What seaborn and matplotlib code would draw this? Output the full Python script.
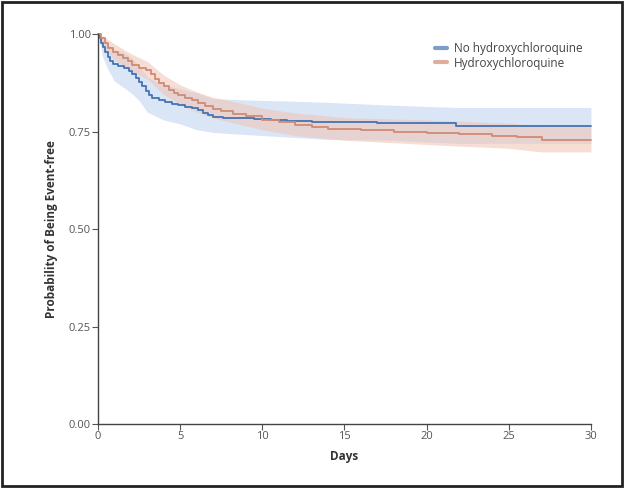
import pandas as pd
import seaborn as sns
import matplotlib.pyplot as plt
from matplotlib.patches import Rectangle

# Kaplan-Meier estimates
no_hcq_days = [0, 0.1, 0.2, 0.3, 0.45, 0.6, 0.75, 0.9, 1.2, 1.6, 1.9, 2.1, 2.3, 2.5, 2.7, 2.9, 3.1, 3.3,
               3.7, 4.1, 4.5, 4.9, 5.3, 5.7, 6.1, 6.4, 6.7, 7.0, 7.6, 8.5, 9.5, 10.5, 11.5, 13, 14, 17,
               21.8, 30]
no_hcq_surv = [1.0, 0.99, 0.978, 0.966, 0.955, 0.942, 0.932, 0.924, 0.918, 0.912, 0.906, 0.898, 0.888,
               0.878, 0.866, 0.855, 0.845, 0.836, 0.832, 0.826, 0.822, 0.818, 0.814, 0.81, 0.805, 0.798,
               0.792, 0.788, 0.786, 0.784, 0.782, 0.780, 0.778, 0.776, 0.774, 0.772, 0.764, 0.764]

hcq_days = [0, 0.2, 0.4, 0.6, 0.9, 1.2, 1.5, 1.8, 2.1, 2.5, 2.9, 3.2, 3.5, 3.7, 4.0, 4.3, 4.6, 4.9, 5.3,
            5.7, 6.1, 6.5, 7.0, 7.5, 8.2, 9.0, 10.0, 11.0, 12.0, 13.0, 14.0, 16.0, 18.0, 20.0, 22.0,
            24.0, 25.5, 27.0, 30]
hcq_surv = [1.0, 0.99, 0.978, 0.965, 0.955, 0.946, 0.938, 0.930, 0.921, 0.914, 0.907, 0.898, 0.886,
            0.875, 0.866, 0.857, 0.85, 0.843, 0.837, 0.831, 0.823, 0.815, 0.808, 0.802, 0.796, 0.789,
            0.781, 0.774, 0.767, 0.762, 0.757, 0.753, 0.749, 0.746, 0.743, 0.739, 0.735, 0.729, 0.728]

# 95% confidence bands (coarser grid)
no_hcq_ci_days = [0, 0.3, 0.6, 1.0, 1.5, 2.0, 2.5, 3.0, 3.5, 4.0, 5.0, 6.0, 7.0, 8.0, 10.0, 12.0, 14.0,
                  17.8, 21.8, 30]
no_hcq_ci_low = [1.0, 0.94, 0.91, 0.88, 0.865, 0.85, 0.83, 0.80, 0.79, 0.78, 0.77, 0.755, 0.748,
                 0.745, 0.74, 0.735, 0.73, 0.728, 0.72, 0.72]
no_hcq_ci_high = [1.0, 0.99, 0.975, 0.96, 0.955, 0.94, 0.92, 0.89, 0.88, 0.87, 0.86, 0.85, 0.835,
                  0.833, 0.83, 0.828, 0.825, 0.818, 0.812, 0.812]

hcq_ci_days = [0, 0.5, 1.0, 2.0, 3.0, 4.0, 5.0, 6.0, 7.0, 8.5, 10.0, 12.0, 15.0, 20.0, 25.0, 27.0, 30]
hcq_ci_low = [1.0, 0.955, 0.935, 0.905, 0.885, 0.845, 0.82, 0.80, 0.785, 0.77, 0.755, 0.74, 0.728,
              0.717, 0.707, 0.698, 0.698]
hcq_ci_high = [1.0, 0.99, 0.975, 0.95, 0.93, 0.895, 0.87, 0.852, 0.838, 0.825, 0.81, 0.798, 0.786,
               0.78, 0.772, 0.765, 0.765]

groups = ["No hydroxychloroquine", "Hydroxychloroquine"]
line_colors = ["#4473b4", "#d08a72"]
band_colors = ["#bcd0ef", "#f0c4b4"]

df = pd.concat([
    pd.DataFrame({"days": no_hcq_days, "surv": no_hcq_surv, "group": groups[0]}),
    pd.DataFrame({"days": hcq_days, "surv": hcq_surv, "group": groups[1]}),
])
bands = [(no_hcq_ci_days, no_hcq_ci_low, no_hcq_ci_high), (hcq_ci_days, hcq_ci_low, hcq_ci_high)]

sns.set_style("ticks")
plt.rcParams["font.family"] = ["Open Sans", "DejaVu Sans"]

fig = plt.figure(figsize=(6.24, 4.88), dpi=100)
ax = fig.add_axes([0.157, 0.131, 0.79, 0.799])

# confidence bands, drawn smooth like the reference
for (bd, lo, hi), bc in zip(bands, band_colors):
    ax.fill_between(bd, lo, hi, color=bc, alpha=0.55, lw=0)

sns.lineplot(data=df, x="days", y="surv", hue="group", hue_order=groups,
             palette=line_colors, drawstyle="steps-post", errorbar=None,
             linewidth=1.3, ax=ax, clip_on=False)

ax.set_xlim(0, 30)
ax.set_ylim(0, 1.0)
ax.set_xticks([0, 5, 10, 15, 20, 25, 30])
ax.set_yticks([0, 0.25, 0.5, 0.75, 1.0])
ax.set_yticklabels(["0.00", "0.25", "0.50", "0.75", "1.00"])
ax.tick_params(labelsize=8, colors="#555555", length=4, width=0.8, pad=1)
for s in ["top", "right"]:
    ax.spines[s].set_visible(False)
for s in ["left", "bottom"]:
    ax.spines[s].set_color("#444444")
    ax.spines[s].set_linewidth(1.0)

ax.set_xlabel("Days", fontsize=8.5, fontweight="bold", color="#333333", labelpad=6)
ax.set_ylabel("Probability of Being Event-free", fontsize=8.5, fontweight="bold",
              color="#333333", labelpad=8)

leg = ax.legend(loc="upper right", bbox_to_anchor=(1.0, 1.0), frameon=False, fontsize=8.5,
                handlelength=1.0, handletextpad=0.6, labelspacing=0.1, borderaxespad=0.3)
for h in leg.get_lines():
    h.set_linewidth(3)
    h.set_alpha(0.7)
for t in leg.get_texts():
    t.set_color("#444444")

fig.patches.append(Rectangle((0.004, 0.004), 0.992, 0.992, transform=fig.transFigure,
                             fill=False, edgecolor="#222222", linewidth=2))

fig.savefig("out.png", dpi=100)
plt.close(fig)
